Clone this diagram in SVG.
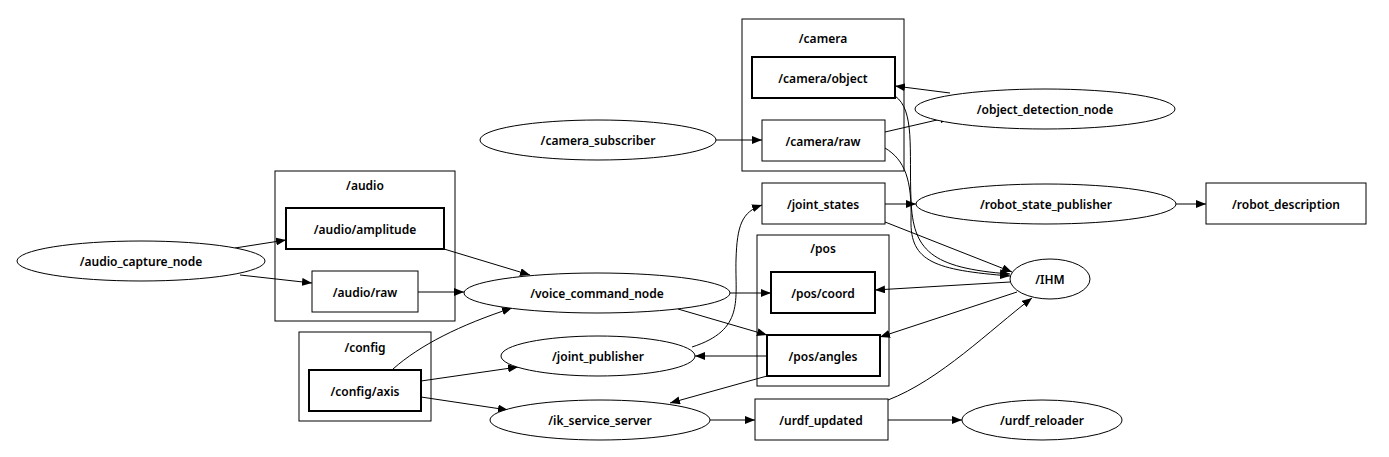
<svg xmlns="http://www.w3.org/2000/svg" width="1389" height="457" viewBox="0 0 1389 457">
<defs><marker id="a" markerWidth="10" markerHeight="8" refX="10" refY="4" orient="auto" markerUnits="userSpaceOnUse"><path d="M0,0L10,4L0,8Z" fill="#000"/></marker></defs>
<style>
text{font-family:"Noto Sans","DejaVu Sans",sans-serif;font-size:12px;font-weight:600;text-anchor:middle;dominant-baseline:central;fill:#000}
.c{fill:none;stroke:#000;stroke-width:1}
.t{fill:#fff;stroke:#000;stroke-width:1}
.k{fill:#fff;stroke:#000;stroke-width:2}
.n{fill:#fff;stroke:#000;stroke-width:1}
#edges path{fill:none;stroke:#000;stroke-width:1;marker-end:url(#a)}
</style>
<rect width="1389" height="457" fill="#fff"/>
<g id="clusters">
<rect class="c" x="742" y="19" width="162" height="152"/><text x="823" y="38">/camera</text>
<rect class="c" x="757" y="235" width="132" height="151"/><text x="823" y="248">/pos</text>
<rect class="c" x="275" y="171" width="180" height="150"/><text x="365" y="185">/audio</text>
<rect class="c" x="299" y="332" width="132" height="89"/><text x="365" y="347">/config</text>
</g>
<g id="edges">
<path d="M716,140L762,140"/>
<path d="M950,93L895,86"/>
<path d="M885,132L950,117"/>
<path d="M895,96C915,110 909,150 911,200C913,250 930,268 1010,274"/>
<path d="M885,148C905,160 912,180 911,220C910,262 935,270 1010,276"/>
<path d="M885,204L916,204"/>
<path d="M885,222L1012,272"/>
<path d="M1176,204L1206,204"/>
<path d="M1010,282L875,290"/>
<path d="M1017,292L880,337"/>
<path d="M235,248L286,240"/>
<path d="M240,275L312,283"/>
<path d="M444,249L530,275"/>
<path d="M418,292L464,292"/>
<path d="M730,293L771,293"/>
<path d="M678,309L767,335"/>
<path d="M393,369C420,345 460,325 512,308"/>
<path d="M421,381L518,367"/>
<path d="M421,397L508,410"/>
<path d="M692,347C745,330 735,300 736,260C737,225 742,212 762,205"/>
<path d="M767,356L695,356"/>
<path d="M767,376L670,403"/>
<path d="M710,420L755,420"/>
<path d="M888,420L962,420"/>
<path d="M888,400C940,380 990,330 1032,298"/>
</g>
<g id="camera_object"><rect class="k" x="752" y="57" width="143" height="41"/><text x="823" y="78">/camera/object</text></g>
<g id="camera_raw"><rect class="t" x="762" y="120" width="123" height="41"/><text x="823" y="141">/camera/raw</text></g>
<g id="object_detection_node"><ellipse class="n" cx="1045" cy="109" rx="130" ry="20"/><text x="1045" y="109">/object_detection_node</text></g>
<g id="camera_subscriber"><ellipse class="n" cx="598" cy="140" rx="118" ry="20"/><text x="598" y="140">/camera_subscriber</text></g>
<g id="joint_states"><rect class="t" x="762" y="183" width="123" height="41"/><text x="823" y="204">/joint_states</text></g>
<g id="robot_state_publisher"><ellipse class="n" cx="1046" cy="204" rx="130" ry="20"/><text x="1046" y="204">/robot_state_publisher</text></g>
<g id="robot_description"><rect class="t" x="1206" y="183" width="160" height="41"/><text x="1286" y="204">/robot_description</text></g>
<g id="pos_coord"><rect class="k" x="771" y="272" width="104" height="41"/><text x="823" y="293">/pos/coord</text></g>
<g id="pos_angles"><rect class="k" x="767" y="335" width="113" height="41"/><text x="823" y="356">/pos/angles</text></g>
<g id="IHM"><ellipse class="n" cx="1050" cy="279" rx="40" ry="20"/><text x="1050" y="279">/IHM</text></g>
<g id="audio_amplitude"><rect class="k" x="286" y="208" width="158" height="41"/><text x="365" y="229">/audio/amplitude</text></g>
<g id="audio_raw"><rect class="t" x="312" y="271" width="106" height="41"/><text x="365" y="292">/audio/raw</text></g>
<g id="audio_capture_node"><ellipse class="n" cx="141" cy="261" rx="124" ry="20"/><text x="141" y="261">/audio_capture_node</text></g>
<g id="voice_command_node"><ellipse class="n" cx="597" cy="293" rx="133" ry="20"/><text x="597" y="293">/voice_command_node</text></g>
<g id="config_axis"><rect class="k" x="309" y="370" width="112" height="41"/><text x="365" y="391">/config/axis</text></g>
<g id="joint_publisher"><ellipse class="n" cx="598" cy="356" rx="97" ry="20"/><text x="598" y="356">/joint_publisher</text></g>
<g id="ik_service_server"><ellipse class="n" cx="600" cy="420" rx="110" ry="20"/><text x="600" y="420">/ik_service_server</text></g>
<g id="urdf_updated"><rect class="t" x="755" y="399" width="133" height="41"/><text x="821" y="420">/urdf_updated</text></g>
<g id="urdf_reloader"><ellipse class="n" cx="1042" cy="420" rx="80" ry="20"/><text x="1042" y="420">/urdf_reloader</text></g>
</svg>
